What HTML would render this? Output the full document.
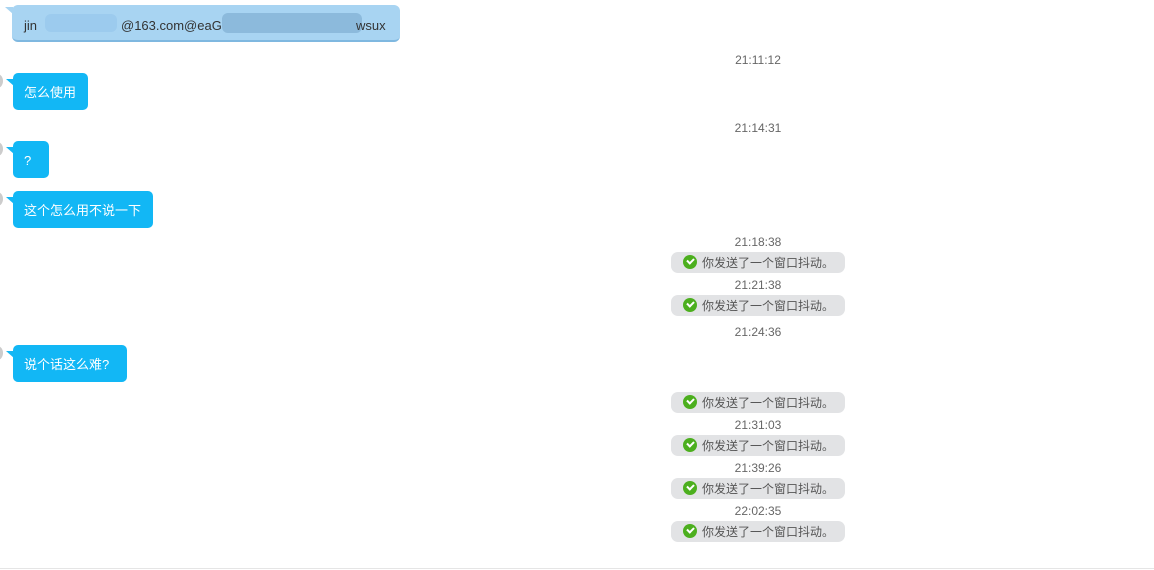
<!DOCTYPE html>
<html><head><meta charset="utf-8"><style>
body{margin:0;width:1154px;height:570px;background:#fff;position:relative;overflow:hidden;font-family:"Liberation Sans","Noto Sans CJK SC",sans-serif}
.b{position:absolute;left:13px;height:37px;background:#12b7f5;border-radius:5px;color:#fff;font-size:13px;line-height:40px;padding:0 11px;box-sizing:border-box}
.b:before{content:"";position:absolute;left:-7px;top:6px;border-top:7px solid #12b7f5;border-left:8px solid transparent}
.av{position:absolute;left:-8px;width:11px;height:14px;border-radius:50%;background:#ccc}
.t{position:absolute;left:658px;width:200px;text-align:center;font-size:12px;color:#666}
.p{position:absolute;left:671px;width:174px;height:21px;border-radius:7px;background:#e2e3e5;font-size:12px;color:#555;line-height:22px}
.p i{position:absolute;left:12px;top:3px;width:14px;height:14px;border-radius:50%;background:#4caf1e}
.p i:after{content:"";position:absolute;left:4px;top:3px;width:5px;height:3px;border-left:2px solid #fff;border-bottom:2px solid #fff;transform:rotate(-45deg)}
.p span{position:absolute;left:31px}
.x{position:absolute;top:16px;font-size:13px;color:#333;line-height:20px}
</style></head><body>
<div style="position:absolute;left:12px;top:5px;width:388px;height:37px;background:#a8d4f2;border-radius:6px;border-bottom:2px solid #7fb8e0;box-sizing:border-box"></div>
<div style="position:absolute;left:5px;top:7px;border-top:7px solid #a8d4f2;border-left:8px solid transparent"></div>
<div style="position:absolute;left:45px;top:14px;width:72px;height:18px;background:#9ccbee;border-radius:6px"></div>
<div style="position:absolute;left:222px;top:13px;width:140px;height:20px;background:#8cbadc;border-radius:6px"></div>
<div class="x" style="left:24px">jin</div>
<div class="x" style="left:121px">@163.com@eaG</div>
<div class="x" style="left:356px">wsux</div>
<div class="av" style="top:74px"></div><div class="b" style="top:73px;width:75px">怎么使用</div>
<div class="av" style="top:142px"></div><div class="b" style="top:141px;width:36px">?</div>
<div class="av" style="top:192px"></div><div class="b" style="top:191px;width:140px">这个怎么用不说一下</div>
<div class="av" style="top:346px"></div><div class="b" style="top:345px;width:114px">说个话这么难?</div>
<div class="t" style="top:53px">21:11:12</div>
<div class="t" style="top:121px">21:14:31</div>
<div class="t" style="top:235px">21:18:38</div>
<div class="t" style="top:278px">21:21:38</div>
<div class="t" style="top:325px">21:24:36</div>
<div class="t" style="top:418px">21:31:03</div>
<div class="t" style="top:461px">21:39:26</div>
<div class="t" style="top:504px">22:02:35</div>
<div class="p" style="top:252px"><i></i><span>你发送了一个窗口抖动。</span></div>
<div class="p" style="top:295px"><i></i><span>你发送了一个窗口抖动。</span></div>
<div class="p" style="top:392px"><i></i><span>你发送了一个窗口抖动。</span></div>
<div class="p" style="top:435px"><i></i><span>你发送了一个窗口抖动。</span></div>
<div class="p" style="top:478px"><i></i><span>你发送了一个窗口抖动。</span></div>
<div class="p" style="top:521px"><i></i><span>你发送了一个窗口抖动。</span></div>
<div style="position:absolute;left:0;top:568px;width:1154px;height:1px;background:#e5e5e5"></div>
</body></html>
